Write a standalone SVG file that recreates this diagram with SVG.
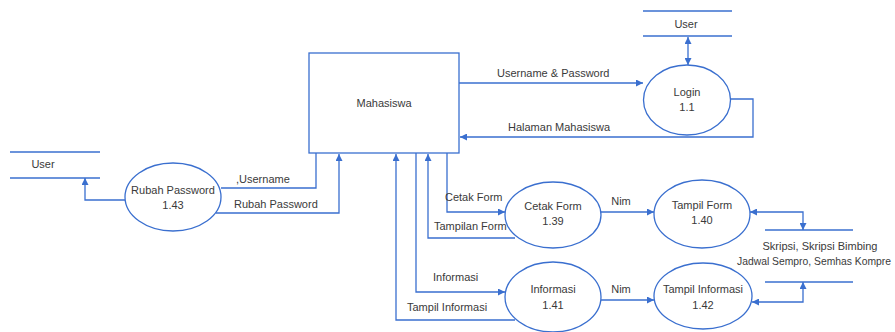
<svg xmlns="http://www.w3.org/2000/svg" width="895" height="332" viewBox="0 0 895 332">
<defs>
<marker id="ah" viewBox="0 0 10 10" refX="10" refY="5" markerWidth="7" markerHeight="7" orient="auto-start-reverse" markerUnits="userSpaceOnUse">
<path d="M0,0 L10,5 L0,10 z" fill="#3a6fcf"/>
</marker>
<style>
.ln{fill:none;stroke:#3a6fcf;stroke-width:1.3}
.nd{fill:#fff;stroke:#3a6fcf;stroke-width:1.3}
.t{font-family:"Liberation Sans",Arial,sans-serif;font-size:11px;fill:#3a3a3a;text-anchor:middle}
.l{font-family:"Liberation Sans",Arial,sans-serif;font-size:11px;fill:#3a3a3a}
</style>
</defs>
<rect width="895" height="332" fill="#fff"/>
<g id="connectors">
<line class="ln" x1="688" y1="37" x2="688" y2="65" marker-start="url(#ah)" marker-end="url(#ah)"/>
<line class="ln" x1="459" y1="83" x2="643" y2="83" marker-end="url(#ah)"/>
<polyline class="ln" points="730,99 753,99 753,137 460,137" marker-end="url(#ah)"/>
<polyline class="ln" points="125,200 85,200 85,178" marker-end="url(#ah)"/>
<polyline class="ln" points="221,188 316,188 316,153"/>
<polyline class="ln" points="216,213 339,213 339,154" marker-end="url(#ah)"/>
<polyline class="ln" points="447,153 447,212 505,212" marker-end="url(#ah)"/>
<polyline class="ln" points="515,238 428,238 428,154" marker-end="url(#ah)"/>
<line class="ln" x1="601" y1="212" x2="654" y2="212" marker-end="url(#ah)"/>
<polyline class="ln" points="750,212 803,212 803,230" marker-start="url(#ah)" marker-end="url(#ah)"/>
<polyline class="ln" points="416,153 416,292 505,292" marker-end="url(#ah)"/>
<polyline class="ln" points="515,320 396,320 396,154" marker-end="url(#ah)"/>
<line class="ln" x1="601" y1="300" x2="654" y2="300" marker-end="url(#ah)"/>
<polyline class="ln" points="752,302 803,302 803,282" marker-start="url(#ah)" marker-end="url(#ah)"/>
<text class="l" x="497" y="77">Username &amp; Password</text>
<text class="l" x="508" y="131">Halaman Mahasiswa</text>
<text class="l" x="236" y="183">,Username</text>
<text class="l" x="234" y="208">Rubah Password</text>
<text class="l" x="445" y="201">Cetak Form</text>
<text class="l" x="434" y="230">Tampilan Form</text>
<text class="t" x="621" y="205">Nim</text>
<text class="l" x="433" y="281">Informasi</text>
<text class="l" x="407" y="311">Tampil Informasi</text>
<text class="t" x="621" y="293">Nim</text>
</g>
<g id="user-top">
<line class="ln" x1="643" y1="11" x2="732" y2="11"/>
<line class="ln" x1="643" y1="36" x2="732" y2="36"/>
<text class="t" x="686" y="28">User</text>
</g>
<g id="login">
<ellipse class="nd" cx="687" cy="100" rx="43.5" ry="35"/>
<text class="t" x="687" y="96">Login</text>
<text class="t" x="687" y="111">1.1</text>
</g>
<g id="mahasiswa">
<rect class="nd" x="309" y="53" width="150" height="100"/>
<text class="t" x="384" y="107">Mahasiswa</text>
</g>
<g id="user-left">
<line class="ln" x1="10" y1="152" x2="100" y2="152"/>
<line class="ln" x1="10" y1="178" x2="100" y2="178"/>
<text class="t" x="43" y="168">User</text>
</g>
<g id="rubah-password">
<ellipse class="nd" cx="173" cy="197" rx="48" ry="34"/>
<text class="t" x="173" y="194">Rubah Password</text>
<text class="t" x="173" y="209">1.43</text>
</g>
<g id="cetak-form">
<ellipse class="nd" cx="553" cy="215" rx="48" ry="33"/>
<text class="t" x="553" y="210">Cetak Form</text>
<text class="t" x="553" y="225">1.39</text>
</g>
<g id="tampil-form">
<ellipse class="nd" cx="702" cy="214" rx="48" ry="34"/>
<text class="t" x="702" y="209">Tampil Form</text>
<text class="t" x="702" y="224">1.40</text>
</g>
<g id="data-store">
<line class="ln" x1="765" y1="230" x2="853" y2="230"/>
<line class="ln" x1="765" y1="282" x2="853" y2="282"/>
<text class="t" x="820" y="250" font-size="10.5">Skripsi, Skripsi Bimbing</text>
<text class="t" x="814" y="265" style="font-size:10.5px" textLength="154" lengthAdjust="spacingAndGlyphs">Jadwal Sempro, Semhas Kompre</text>
</g>
<g id="informasi">
<ellipse class="nd" cx="553" cy="297" rx="48" ry="35"/>
<text class="t" x="553" y="293">Informasi</text>
<text class="t" x="553" y="309">1.41</text>
</g>
<g id="tampil-informasi">
<ellipse class="nd" cx="703" cy="296" rx="49" ry="33"/>
<text class="t" x="703" y="293">Tampil Informasi</text>
<text class="t" x="703" y="309">1.42</text>
</g>
</svg>
